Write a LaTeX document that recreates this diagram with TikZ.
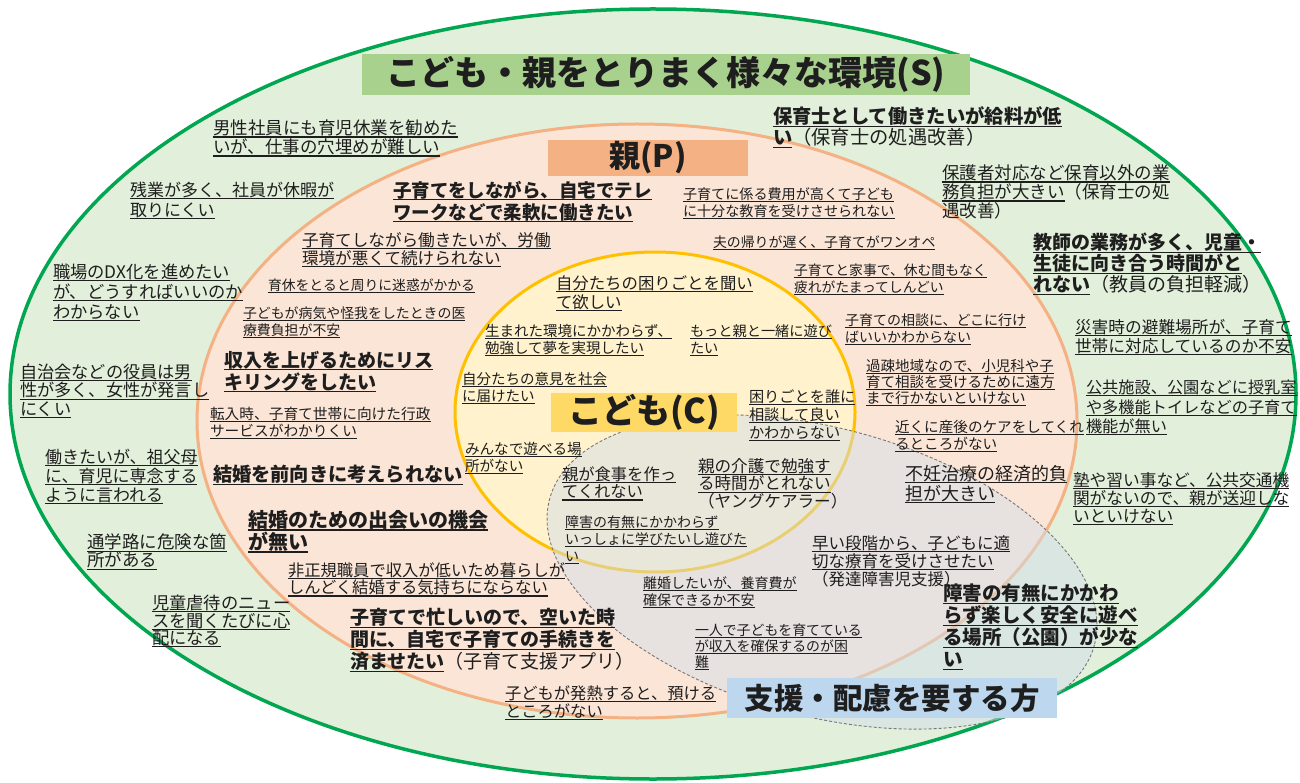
\documentclass[tikz,border=0pt]{standalone}
\usepackage{fontspec}
\setmainfont{Noto Sans CJK JP}
\definecolor{gfill}{RGB}{226,239,218}
\definecolor{gline}{RGB}{0,166,80}
\definecolor{ofill}{RGB}{251,229,214}
\definecolor{oline}{RGB}{244,177,131}
\definecolor{yfill}{RGB}{255,242,204}
\definecolor{yline}{RGB}{255,192,0}
\definecolor{gbox}{RGB}{169,209,142}
\definecolor{obox}{RGB}{244,177,131}
\definecolor{ybox}{RGB}{255,217,102}
\definecolor{bluebox}{RGB}{189,215,238}
\definecolor{txt}{RGB}{30,30,30}
\definecolor{sfill}{RGB}{212,222,232}
\definecolor{dline}{RGB}{120,120,120}
\newcommand\fs[2]{\fontsize{#1}{#2}\selectfont}
\newcommand\uln[1]{\setbox0\hbox{#1}\rlap{\rule[-0.17em]{\wd0}{0.07em}}\box0}
\tikzset{
  tx/.style={anchor=north west, inner sep=0pt, outer sep=0pt, align=left, text=txt},
  titlebox/.style={inner sep=0pt, text=txt, font=\bfseries\fs{34}{34}},
}
\begin{document}
\begin{tikzpicture}[x=1pt,y=-1pt]
\useasboundingbox (0,0) rectangle (1300,783);
\fill[white] (0,0) rectangle (1300,783);
% circles
\draw[gline, line width=3.5pt, fill=gfill] (653,394) ellipse [x radius=643, y radius=385];
\draw[oline, line width=3pt, fill=ofill] (637,421) ellipse [x radius=440, y radius=297];
\draw[yline, line width=3pt, fill=yfill] (655,412) ellipse [x radius=200, y radius=160];
\fill[sfill, opacity=.5, rotate around={-15:(822,572)}] (822,572) ellipse [x radius=282, y radius=144];
\draw[dline, line width=0.9pt, dash pattern=on 3pt off 2pt, rotate around={-15:(822,572)}] (822,572) ellipse [x radius=282, y radius=144];
% title boxes
\node[titlebox, fill=gbox, minimum width=608pt, minimum height=41pt] (tS) at (666,74.5) {こども・親をとりまく様々な環境(S)};
\node[titlebox, fill=obox, minimum width=200pt, minimum height=36pt, font=\bfseries\fs{31}{31}] (tP) at (648,158) {親(P)};
\node[titlebox, fill=ybox, minimum width=186pt, minimum height=39pt] (tC) at (644,412.5) {こども(C)};
\node[titlebox, fill=bluebox, minimum width=330pt, minimum height=40pt, font=\bfseries\fs{29.5}{29.5}] (tX) at (892,698) {支援・配慮を要する方};
% outer (S)
\node[tx, font=\fs{17.5}{19}] (n1) at (213,120) {\uln{男性社員にも育児休業を勧めた}\\\uln{いが、仕事の穴埋めが難しい}};
\node[tx, font=\fs{17}{20}] (n2) at (130,182) {\uln{残業が多く、社員が休暇が}\\\uln{取りにくい}};
\node[tx, font=\fs{17.3}{20}] (n3) at (53,264) {\uln{職場のDX化を進めたい}\\\uln{が、どうすればいいのか}\\\uln{わからない}};
\node[tx, font=\fs{17.2}{18.5}] (n4) at (20,364) {\uln{自治会などの役員は男}\\\uln{性が多く、女性が発言し}\\\uln{にくい}};
\node[tx, font=\fs{17}{19}] (n5) at (45,449) {\uln{働きたいが、祖父母}\\\uln{に、育児に専念する}\\\uln{ように言われる}};
\node[tx, font=\fs{17.5}{18}] (n6) at (87,534) {\uln{通学路に危険な箇}\\\uln{所がある}};
\node[tx, font=\fs{17.3}{17.5}] (n7) at (152,595) {\uln{児童虐待のニュー}\\\uln{スを聞くたびに心}\\\uln{配になる}};
\node[tx, font=\bfseries\fs{19.3}{21}] (n8) at (773,107) {\uln{保育士として働きたいが給料が低}\\\uln{い}{\mdseries（保育士の処遇改善）}};
\node[tx, font=\fs{17.5}{19}] (n9) at (942,165) {\uln{保護者対応など保育以外の業}\\\uln{務負担が大きい}（保育士の処\\遇改善）};
\node[tx, font=\bfseries\fs{19}{21}] (n10) at (1033,233) {\uln{教師の業務が多く、児童・}\\\uln{生徒に向き合う時間がと}\\\uln{れない}{\mdseries（教員の負担軽減）}};
\node[tx, font=\fs{16.7}{18.5}] (n11) at (1075,319.5) {\uln{災害時の避難場所が、子育て}\\\uln{世帯に対応しているのか不安}};
\node[tx, font=\fs{16.2}{19.5}] (n12) at (1086,380) {\uln{公共施設、公園などに授乳室}\\\uln{や多機能トイレなどの子育て}\\\uln{機能が無い}};
\node[tx, font=\fs{16.7}{18}] (n13) at (1073,472.5) {\uln{塾や習い事など、公共交通機}\\\uln{関がないので、親が送迎しな}\\\uln{いといけない}};
\node[tx, font=\bfseries\fs{19.5}{22}] (n14) at (943,584) {\uln{障害の有無にかかわ}\\\uln{らず楽しく安全に遊べ}\\\uln{る場所（公園）が少な}\\\uln{い}};
% parents (P)
\node[tx, font=\bfseries\fs{18.5}{22}] (n15) at (393,181) {\uln{子育てをしながら、自宅でテレ}\\\uln{ワークなどで柔軟に働きたい}};
\node[tx, font=\fs{14.1}{17}] (n16) at (683,188) {\uln{子育てに係る費用が高くて子ども}\\\uln{に十分な教育を受けさせられない}};
\node[tx, font=\fs{13.9}{17}] (n17) at (713,236) {\uln{夫の帰りが遅く、子育てがワンオペ}};
\node[tx, font=\fs{16.6}{18}] (n18) at (302,232.5) {\uln{子育てしながら働きたいが、労働}\\\uln{環境が悪くて続けられない}};
\node[tx, font=\fs{13.8}{17}] (n19) at (268,279) {\uln{育休をとると周りに迷惑がかかる}};
\node[tx, font=\fs{13.9}{17}] (n20) at (243,307) {\uln{子どもが病気や怪我をしたときの医}\\\uln{療費負担が不安}};
\node[tx, font=\fs{13.8}{17}] (n21) at (794,264) {\uln{子育てと家事で、休む間もなく}\\\uln{疲れがたまってしんどい}};
\node[tx, font=\fs{14}{16.5}] (n22) at (845,314) {\uln{子育ての相談に、どこに行け}\\\uln{ばいいかわからない}};
\node[tx, font=\bfseries\fs{19}{22}] (n23) at (224,351) {\uln{収入を上げるためにリス}\\\uln{キリングをしたい}};
\node[tx, font=\fs{14.5}{16}] (n24) at (866,359.5) {\uln{過疎地域なので、小児科や子}\\\uln{育て相談を受けるために遠方}\\\uln{まで行かないといけない}};
\node[tx, font=\fs{14.7}{17}] (n25) at (210,407.5) {\uln{転入時、子育て世帯に向けた行政}\\\uln{サービスがわかりくい}};
\node[tx, font=\fs{14.6}{16.5}] (n26) at (895,420.5) {\uln{近くに産後のケアをしてくれ}\\\uln{るところがない}};
\node[tx, font=\bfseries\fs{19.2}{22}] (n27) at (213,465.5) {\uln{結婚を前向きに考えられない}};
\node[tx, font=\fs{18}{20}] (n28) at (905,465) {\uln{不妊治療の経済的負}\\\uln{担が大きい}};
\node[tx, font=\bfseries\fs{20}{22}] (n29) at (248,510) {\uln{結婚のための出会いの機会}\\\uln{が無い}};
\node[tx, font=\fs{16.3}{17.5}] (n30) at (288,562.5) {\uln{非正規職員で収入が低いため暮らしが}\\\uln{しんどく結婚する気持ちにならない}};
\node[tx, font=\bfseries\fs{19}{22}] (n31) at (350,608.5) {\uln{子育てで忙しいので、空いた時}\\\uln{間に、自宅で子育ての手続きを}\\\uln{済ませたい}{\mdseries（子育て支援アプリ）}};
\node[tx, font=\fs{16.3}{18}] (n32) at (505,685.5) {\uln{子どもが発熱すると、預ける}\\\uln{ところがない}};
% children (C)
\node[tx, font=\fs{16.4}{19}] (n33) at (556,275.5) {\uln{自分たちの困りごとを聞い}\\\uln{て欲しい}};
\node[tx, font=\fs{14.5}{17}] (n34) at (485,324.5) {\uln{生まれた環境にかかわらず、}\\\uln{勉強して夢を実現したい}};
\node[tx, font=\fs{14.2}{17}] (n35) at (690,324.5) {\uln{もっと親と一緒に遊び}\\\uln{たい}};
\node[tx, font=\fs{14.5}{17}] (n36) at (462,372.5) {\uln{自分たちの意見を社会}\\\uln{に届けたい}};
\node[tx, font=\fs{15.2}{18}] (n37) at (749,390) {\uln{困りごとを誰に}\\\uln{相談して良い}\\\uln{かわからない}};
\node[tx, font=\fs{14.6}{17}] (n38) at (465,442.5) {\uln{みんなで遊べる場}\\\uln{所がない}};
\node[tx, font=\fs{16.3}{17.5}] (n39) at (562,466.5) {\uln{親が食事を作っ}\\\uln{てくれない}};
\node[tx, font=\fs{16.6}{17.5}] (n40) at (698,458.5) {\uln{親の介護で勉強す}\\\uln{る時間がとれない}\\（ヤングケアラー）};
\node[tx, font=\fs{14}{17}] (n41) at (565,515.5) {\uln{障害の有無にかかわらず}\\\uln{いっしょに学びたいし遊びた}\\\uln{い}};
% support
\node[tx, font=\fs{16.5}{18}] (n42) at (812,535.5) {\uln{早い段階から、子どもに適}\\\uln{切な療育を受けさせたい}\\（発達障害児支援）};
\node[tx, font=\fs{14}{17}] (n43) at (643,576.5) {\uln{離婚したいが、養育費が}\\\uln{確保できるか不安}};
\node[tx, font=\fs{13.9}{16}] (n44) at (695,623.5) {\uln{一人で子どもを育てている}\\\uln{が収入を確保するのが困}\\\uln{難}};
\end{tikzpicture}
\end{document}
